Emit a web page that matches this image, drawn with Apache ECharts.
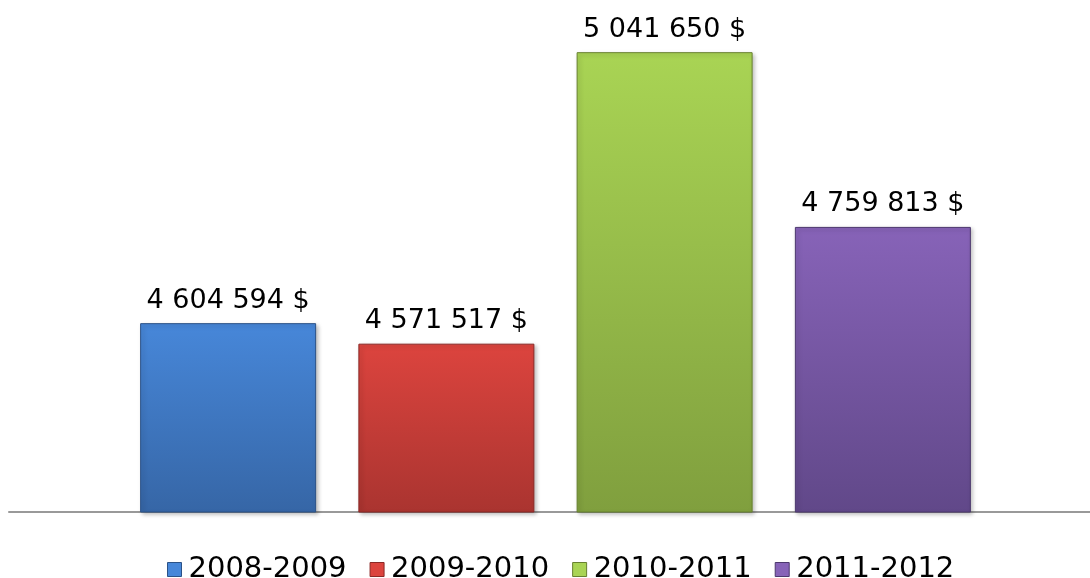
<!DOCTYPE html>
<html>
<head>
<meta charset="utf-8">
<script src="https://cdn.jsdelivr.net/npm/echarts@6/dist/echarts.min.js"></script>
<style>
  html, body { margin: 0; padding: 0; background: #fff; }
  #chart-container { width: 1090px; height: 578px; }
</style>
</head>
<body>
<div id="chart-container"></div>
<script>
var seasons = ['2008-2009', '2009-2010', '2010-2011', '2011-2012'];
var amounts = [4604594, 4571517, 5041650, 4759813];
var topColors = ['#4787d9', '#dc443e', '#a9d454', '#8763b8'];
var bottomColors = ['#3666a6', '#aa3430', '#809f3e', '#614889'];
var edgeColors = ['#2b5287', '#8a2926', '#67812f', '#4c386e'];

var dom = document.getElementById('chart-container');
var myChart = echarts.init(dom, null, { renderer: 'canvas' });

function money(v) {
    return String(v).replace(/\B(?=(\d{3})+(?!\d))/g, ' ') + ' $';
}

var series = seasons.map(function (name, i) {
    return {
        name: name,
        type: 'bar',
        barWidth: 176,
        barGap: '24%',
        xAxisIndex: 0,
        yAxisIndex: 0,
        data: [amounts[i]],
        itemStyle: {
            color: new echarts.graphic.LinearGradient(0, 0, 0, 1, [
                { offset: 0, color: topColors[i] },
                { offset: 1, color: bottomColors[i] }
            ]),
            borderColor: edgeColors[i],
            borderWidth: 1,
            shadowColor: 'rgba(0,0,0,0.25)',
            shadowBlur: 4,
            shadowOffsetX: 2,
            shadowOffsetY: 2
        },
        label: {
            show: true,
            position: 'top',
            distance: 9,
            formatter: function (p) { return money(p.value); },
            fontFamily: 'DejaVu Sans',
            fontSize: 27,
            color: '#000'
        }
    };
});

var option = {
    animation: false,
    legend: {
        data: seasons.map(function (name, i) {
            return { name: name, itemStyle: { color: topColors[i], borderColor: edgeColors[i], borderWidth: 1 } };
        }),
        top: 550,
        left: 162,
        icon: 'rect',
        itemWidth: 14,
        itemHeight: 14,
        itemGap: 23,
        textStyle: { fontFamily: 'DejaVu Sans', fontSize: 29, color: '#000', padding: [0, 0, 0, 2] }
    },
    grid: [
        { left: 21, right: 0, top: 16, bottom: 66 },
        { left: 9, right: 0, top: 16, bottom: 66 }
    ],
    xAxis: [
        {
            type: 'category',
            gridIndex: 0,
            data: [''],
            axisLine: { show: false },
            axisTick: { show: false },
            axisLabel: { show: false }
        },
        {
            type: 'category',
            gridIndex: 1,
            data: [''],
            axisLine: { lineStyle: { color: '#999', width: 2 } },
            axisTick: { show: false },
            axisLabel: { show: false }
        }
    ],
    yAxis: [
        { type: 'value', gridIndex: 0, min: 4300000, max: 5100000, show: false },
        { type: 'value', gridIndex: 1, min: 4300000, max: 5100000, show: false }
    ],
    series: series
};

myChart.setOption(option);
window.addEventListener('resize', myChart.resize);
</script>
</body>
</html>
